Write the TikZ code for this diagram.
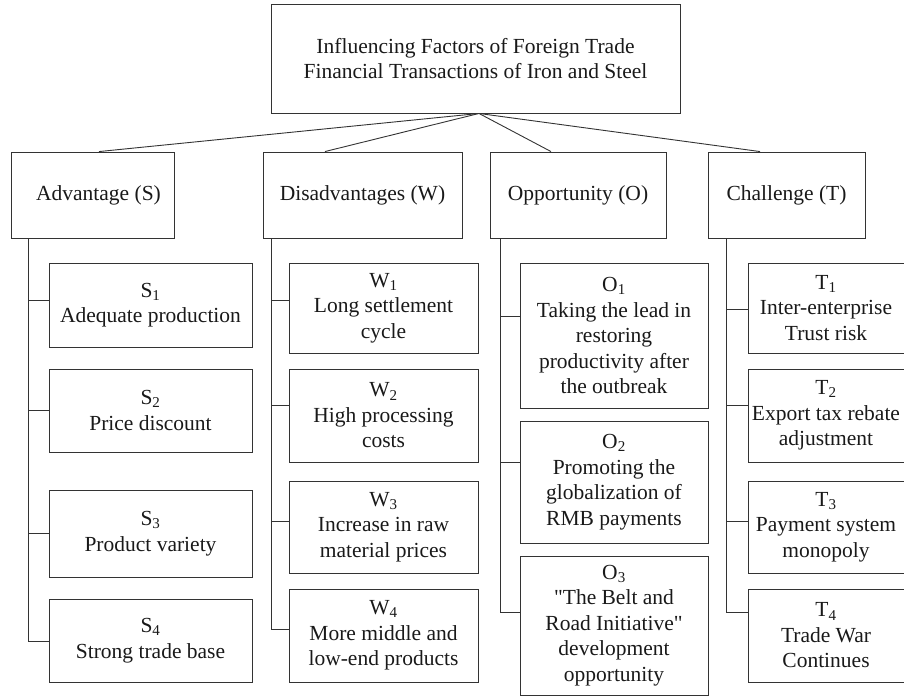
\documentclass[tikz,border=0pt]{standalone}
\usepackage{fontspec}
\setmainfont{Liberation Serif}
\begin{document}
\begin{tikzpicture}[x=1pt,y=-1pt,
  box/.style={draw=black!80, line width=0.9pt, align=center, inner sep=0pt,
              font=\fontsize{21.5}{25.5}\selectfont, text=black!90},
  link/.style={draw=black!80, line width=0.9pt},
  hdbox/.style={box, minimum height=86pt}]
\useasboundingbox (0,0) rectangle (904,697);

% root
\node[box, minimum width=409pt, minimum height=109pt] (top) at (475.5,58.5)
  {Influencing Factors of Foreign Trade\\Financial Transactions of Iron and Steel};

% SWOT headings
\node[hdbox, minimum width=163pt] (adv) at (92.5,195) {\hspace*{12pt}Advantage (S)};
\node[hdbox, minimum width=199pt] (dis) at (362.5,195) {Disadvantages (W)};
\node[hdbox, minimum width=176pt] (opp) at (578,195) {Opportunity (O)};
\node[hdbox, minimum width=157pt] (cha) at (786.5,195) {Challenge (T)};

% strengths
\node[box, minimum width=203pt, minimum height=84pt] (s1) at (150.5,305)
  {S\textsubscript{1}\\Adequate production};
\node[box, minimum width=203pt, minimum height=83pt] (s2) at (150.5,410.5)
  {S\textsubscript{2}\\Price discount};
\node[box, minimum width=203pt, minimum height=87pt] (s3) at (150.5,533.5)
  {S\textsubscript{3}\\Product variety};
\node[box, minimum width=203pt, minimum height=83pt] (s4) at (150.5,640.5)
  {S\textsubscript{4}\\Strong trade base};

% weaknesses
\node[box, minimum width=189pt, minimum height=90pt] (w1) at (383.5,308)
  {W\textsubscript{1}\\Long settlement\\cycle};
\node[box, minimum width=189pt, minimum height=93pt] (w2) at (383.5,415.5)
  {W\textsubscript{2}\\High processing\\costs};
\node[box, minimum width=189pt, minimum height=92pt] (w3) at (383.5,527)
  {W\textsubscript{3}\\Increase in raw\\material prices};
\node[box, minimum width=189pt, minimum height=93pt] (w4) at (383.5,635.5)
  {W\textsubscript{4}\\More middle and\\low-end products};

% opportunities
\node[box, minimum width=188pt, minimum height=145pt] (o1) at (614,335.5)
  {O\textsubscript{1}\\Taking the lead in\\restoring\\productivity after\\the outbreak};
\node[box, minimum width=188pt, minimum height=122pt] (o2) at (614,482)
  {O\textsubscript{2}\\Promoting the\\globalization of\\RMB payments};
\node[box, minimum width=188pt, minimum height=139pt] (o3) at (614,625.5)
  {O\textsubscript{3}\\\textquotedbl The Belt and\\Road Initiative\textquotedbl\\development\\opportunity};

% threats
\node[box, minimum width=156pt, minimum height=90pt] (t1) at (826,308)
  {T\textsubscript{1}\\Inter-enterprise\\Trust risk};
\node[box, minimum width=156pt, minimum height=93pt] (t2) at (826,415.5)
  {T\textsubscript{2}\\Export tax rebate\\adjustment};
\node[box, minimum width=156pt, minimum height=92pt] (t3) at (826,527)
  {T\textsubscript{3}\\Payment system\\monopoly};
\node[box, minimum width=156pt, minimum height=93pt] (t4) at (826,635.5)
  {T\textsubscript{4}\\Trade War\\Continues};

% root to headings
\coordinate (apex) at ([xshift=3.5pt]top.south);
\draw[link] (apex) -- ([xshift=6.5pt]adv.north);
\draw[link] (apex) -- ([xshift=-37.5pt]dis.north);
\draw[link] (apex) -- ([xshift=-27pt]opp.north);
\draw[link] (apex) -- ([xshift=-26.5pt]cha.north);

% S trunk and branches
\draw[link] (adv.south -| 28,0) -- (28,641);
\draw[link] (28,300) -- (s1.west |- 0,300);
\draw[link] (28,410) -- (s2.west |- 0,410);
\draw[link] (28,533) -- (s3.west |- 0,533);
\draw[link] (28,641) -- (s4.west |- 0,641);

% W trunk and branches
\draw[link] (dis.south -| 271,0) -- (271,629);
\draw[link] (271,300) -- (w1.west |- 0,300);
\draw[link] (271,405) -- (w2.west |- 0,405);
\draw[link] (271,521) -- (w3.west |- 0,521);
\draw[link] (271,629) -- (w4.west |- 0,629);

% O trunk and branches
\draw[link] (opp.south -| 500,0) -- (500,612);
\draw[link] (500,316) -- (o1.west |- 0,316);
\draw[link] (500,462) -- (o2.west |- 0,462);
\draw[link] (500,612) -- (o3.west |- 0,612);

% T trunk and branches
\draw[link] (cha.south -| 726,0) -- (726,612);
\draw[link] (726,309) -- (t1.west |- 0,309);
\draw[link] (726,405) -- (t2.west |- 0,405);
\draw[link] (726,521) -- (t3.west |- 0,521);
\draw[link] (726,612) -- (t4.west |- 0,612);
\end{tikzpicture}
\end{document}
